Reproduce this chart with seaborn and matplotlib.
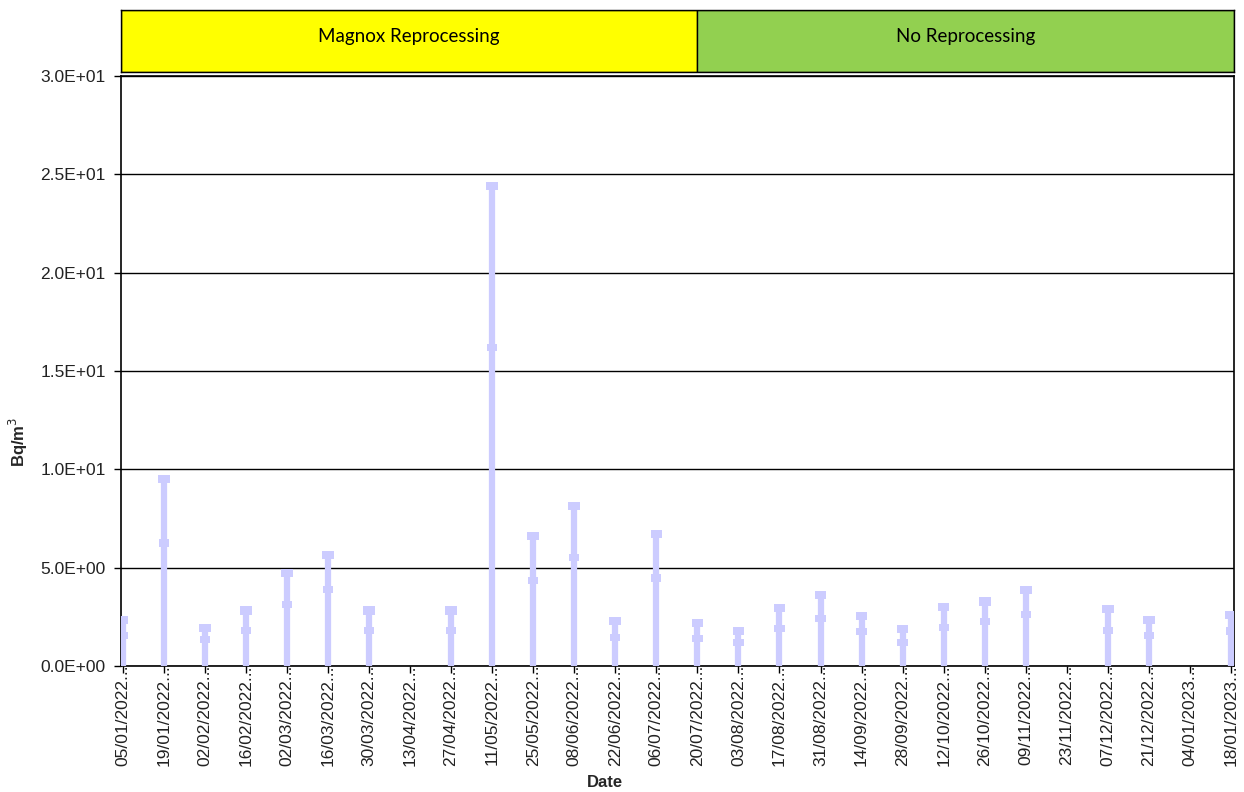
import numpy as np
import pandas as pd
import matplotlib
matplotlib.use("Agg")
import matplotlib.pyplot as plt
from matplotlib.ticker import FuncFormatter, MultipleLocator
import seaborn as sns

# Fortnightly sampling dates
dates = ["05/01/2022", "19/01/2022", "02/02/2022", "16/02/2022", "02/03/2022",
         "16/03/2022", "30/03/2022", "13/04/2022", "27/04/2022", "11/05/2022",
         "25/05/2022", "08/06/2022", "22/06/2022", "06/07/2022", "20/07/2022",
         "03/08/2022", "17/08/2022", "31/08/2022", "14/09/2022", "28/09/2022",
         "12/10/2022", "26/10/2022", "09/11/2022", "23/11/2022", "07/12/2022",
         "21/12/2022", "04/01/2023", "18/01/2023"]

# Measured activity concentration (Bq/m3) and upper bound of the range
result = [1.54, 6.25, 1.36, 1.80, 3.14, 3.88, 1.82, np.nan, 1.82, 16.2,
          4.35, 5.50, 1.44, 4.47, 1.41, 1.20, 1.92, 2.40, 1.75, 1.21,
          1.95, 2.28, 2.60, np.nan, 1.79, 1.54, np.nan, 1.78]
upper = [2.33, 9.50, 1.95, 2.82, 4.72, 5.65, 2.82, np.nan, 2.82, 24.4,
         6.60, 8.15, 2.28, 6.72, 2.20, 1.80, 2.94, 3.60, 2.55, 1.86,
         3.02, 3.28, 3.88, np.nan, 2.89, 2.33, np.nan, 2.60]

# Operating periods shown in the header band
periods = ["Magnox Reprocessing", "No Reprocessing"]
period_start = ["05/01/2022", "20/07/2022"]
period_colors = ["#ffff00", "#92d050"]

df = pd.DataFrame({"date": dates, "result": result, "upper": upper})
df["pos"] = np.arange(len(df))

sns.set_theme(style="white")
plt.rcParams["font.family"] = ["Liberation Sans", "DejaVu Sans"]

W, H = 1244, 792
fig = plt.figure(figsize=(W / 100, H / 100), dpi=100)
ax = fig.add_axes([121 / W, 1 - 666 / H, 1112.5 / W, 590 / H])

mark_color = "#ccccff"
flat_box = [(-1, -0.7), (1, -0.7), (1, 0.7), (-1, 0.7), (-1, -0.7)]
valid = df.dropna()
ax.vlines(valid["pos"], 0, valid["upper"], color=mark_color, lw=4.5, zorder=3)
sns.scatterplot(data=valid, x="pos", y="upper", ax=ax, marker=flat_box, s=70,
                color=mark_color, edgecolor="none", zorder=4, legend=False)
sns.scatterplot(data=valid, x="pos", y="result", ax=ax, marker=flat_box, s=55,
                color=mark_color, edgecolor="none", zorder=4, legend=False)

xlim = (-0.04, len(df) - 1 + 0.06)
ax.set_xlim(*xlim)
ax.set_ylim(0, 30)
ax.yaxis.set_major_locator(MultipleLocator(5))
ax.yaxis.set_major_formatter(FuncFormatter(lambda v, _: f"{v:.1E}"))
ax.grid(axis="y", color="black", lw=1.0)
ax.set_axisbelow(True)
for s in ax.spines.values():
    s.set_color("black")
    s.set_linewidth(1.2)

ax.set_xticks(df["pos"])
ax.set_xticklabels([d + "..." for d in dates], rotation=90, va="top", ha="center")
ax.tick_params(axis="x", direction="out", length=5, width=1, color="black",
               labelsize=12.5, pad=-6, labelcolor="#222222", bottom=True)
ax.tick_params(axis="y", direction="out", length=5, width=1, color="black",
               labelsize=12.5, pad=6, labelcolor="#222222", left=True)

ax.set_xlabel("Date", fontsize=12, fontweight="bold")
ax.set_ylabel("Bq/m$^3$", fontsize=12, fontweight="bold")
ax.xaxis.set_label_coords(0.435, -0.185)
ax.yaxis.set_label_coords(-0.082, 0.38)

# Header band with the operating periods
hdr = fig.add_axes([121 / W, 1 - 72 / H, 1112.5 / W, 62 / H])
hdr.set_xlim(*xlim)
hdr.set_ylim(0, 1)
edges = [dates.index(p) for p in period_start] + [xlim[1]]
edges[0] = xlim[0]
for i, (label, col) in enumerate(zip(periods, period_colors)):
    hdr.axvspan(edges[i], edges[i + 1], color=col, ec="black", lw=1)
    hdr.text((edges[i] + edges[i + 1]) / 2, 0.58, label, ha="center", va="center",
             fontsize=13.5, family=["Lato", "DejaVu Sans"], color="black")
hdr.set_xticks([])
hdr.set_yticks([])
for s in hdr.spines.values():
    s.set_color("black")
    s.set_linewidth(1)

fig.savefig("out.png", dpi=100, facecolor="white")
